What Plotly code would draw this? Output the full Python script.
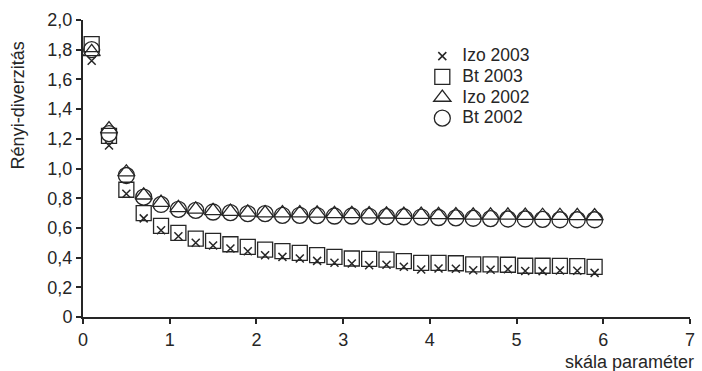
import plotly.graph_objects as go

x_vals = [0.1, 0.3, 0.5, 0.7, 0.9, 1.1, 1.3, 1.5, 1.7, 1.9, 2.1, 2.3, 2.5, 2.7, 2.9,
          3.1, 3.3, 3.5, 3.7, 3.9, 4.1, 4.3, 4.5, 4.7, 4.9, 5.1, 5.3, 5.5, 5.7, 5.9]

izo_2003 = [1.725, 1.155, 0.83, 0.664, 0.584, 0.544, 0.50, 0.481, 0.461, 0.443, 0.416, 0.405,
            0.394, 0.378, 0.365, 0.36, 0.349, 0.352, 0.338, 0.32, 0.327, 0.325, 0.315, 0.318,
            0.322, 0.31, 0.309, 0.313, 0.312, 0.297]
bt_2003 = [1.837, 1.22, 0.857, 0.70, 0.613, 0.566, 0.528, 0.512, 0.49, 0.472, 0.454, 0.443,
           0.432, 0.416, 0.405, 0.394, 0.392, 0.387, 0.376, 0.365, 0.365, 0.362, 0.354, 0.354,
           0.352, 0.345, 0.345, 0.344, 0.343, 0.338]
izo_2002 = [1.785, 1.265, 0.975, 0.82, 0.77, 0.735, 0.725, 0.715, 0.71, 0.705, 0.70, 0.70,
            0.70, 0.698, 0.695, 0.695, 0.693, 0.692, 0.69, 0.69, 0.688, 0.687, 0.685, 0.685,
            0.684, 0.683, 0.682, 0.682, 0.681, 0.68]
bt_2002 = [1.80, 1.235, 0.953, 0.807, 0.758, 0.725, 0.718, 0.707, 0.703, 0.696, 0.696, 0.685,
           0.685, 0.683, 0.68, 0.68, 0.678, 0.676, 0.675, 0.673, 0.67, 0.668, 0.665, 0.663,
           0.66, 0.66, 0.658, 0.655, 0.655, 0.655]

series_names = ["Izo 2003", "Bt 2003", "Izo 2002", "Bt 2002"]

y_ticks = [0, 0.2, 0.4, 0.6, 0.8, 1.0, 1.2, 1.4, 1.6, 1.8, 2.0]
y_tick_labels = ["0", "0,2", "0,4", "0,6", "0,8", "1,0", "1,2", "1,4", "1,6", "1,8", "2,0"]
x_ticks = [0, 1, 2, 3, 4, 5, 6, 7]

ink = "#262626"
FONT = "Liberation Sans, Arial, sans-serif"

fig = go.Figure()
styles = [
    ("x-thin-open", 8, 1.5),
    ("square-open", 15, 1.3),
    ("triangle-up-open", 15, 1.3),
    ("circle-open", 16, 1.3),
]
for name, ys, (sym, sz, lw) in zip(series_names, [izo_2003, bt_2003, izo_2002, bt_2002], styles):
    fig.add_trace(go.Scatter(
        x=x_vals, y=ys, mode="markers",
        name="<span style='font-size:17.5px'>" + name + "</span>",
        marker=dict(symbol=sym, size=sz, color=ink, line=dict(color=ink, width=lw)),
    ))

fig.update_layout(
    width=702, height=371,
    margin=dict(l=83, r=7, t=20, b=54),
    paper_bgcolor="white", plot_bgcolor="white",
    font=dict(family=FONT, size=17, color=ink),
    showlegend=True,
    legend=dict(x=0.559, y=0.93, xanchor="left", yanchor="top",
                bgcolor="rgba(0,0,0,0)", font=dict(size=13.6, color=ink),
                tracegroupgap=0, itemsizing="trace"),
    xaxis=dict(range=[0, 7], tickvals=x_ticks, ticktext=[str(v) for v in x_ticks],
               showgrid=False, zeroline=False, showline=True, linecolor=ink, linewidth=2,
               ticks="outside", ticklen=5, tickwidth=1.5, tickcolor=ink,
               tickfont=dict(size=18, color=ink)),
    yaxis=dict(range=[0, 2.0], tickvals=y_ticks, ticktext=y_tick_labels,
               showgrid=False, zeroline=False, showline=True, linecolor=ink, linewidth=2,
               ticks="outside", ticklen=5, tickwidth=1.5, tickcolor=ink,
               tickfont=dict(size=18, color=ink)),
    annotations=[
        dict(text="Rényi-diverzitás", xref="paper", yref="paper", x=-0.108, y=0.714,
             textangle=-90, showarrow=False, xanchor="center", yanchor="middle",
             font=dict(size=18, color=ink)),
        dict(text="skála paraméter", xref="paper", yref="paper", x=1.01, y=-0.152,
             showarrow=False, xanchor="right", yanchor="middle",
             font=dict(size=18, color=ink)),
    ],
)

fig.write_html("out.html", config={"displayModeBar": False},
               post_script="document.body.style.margin='0';")
